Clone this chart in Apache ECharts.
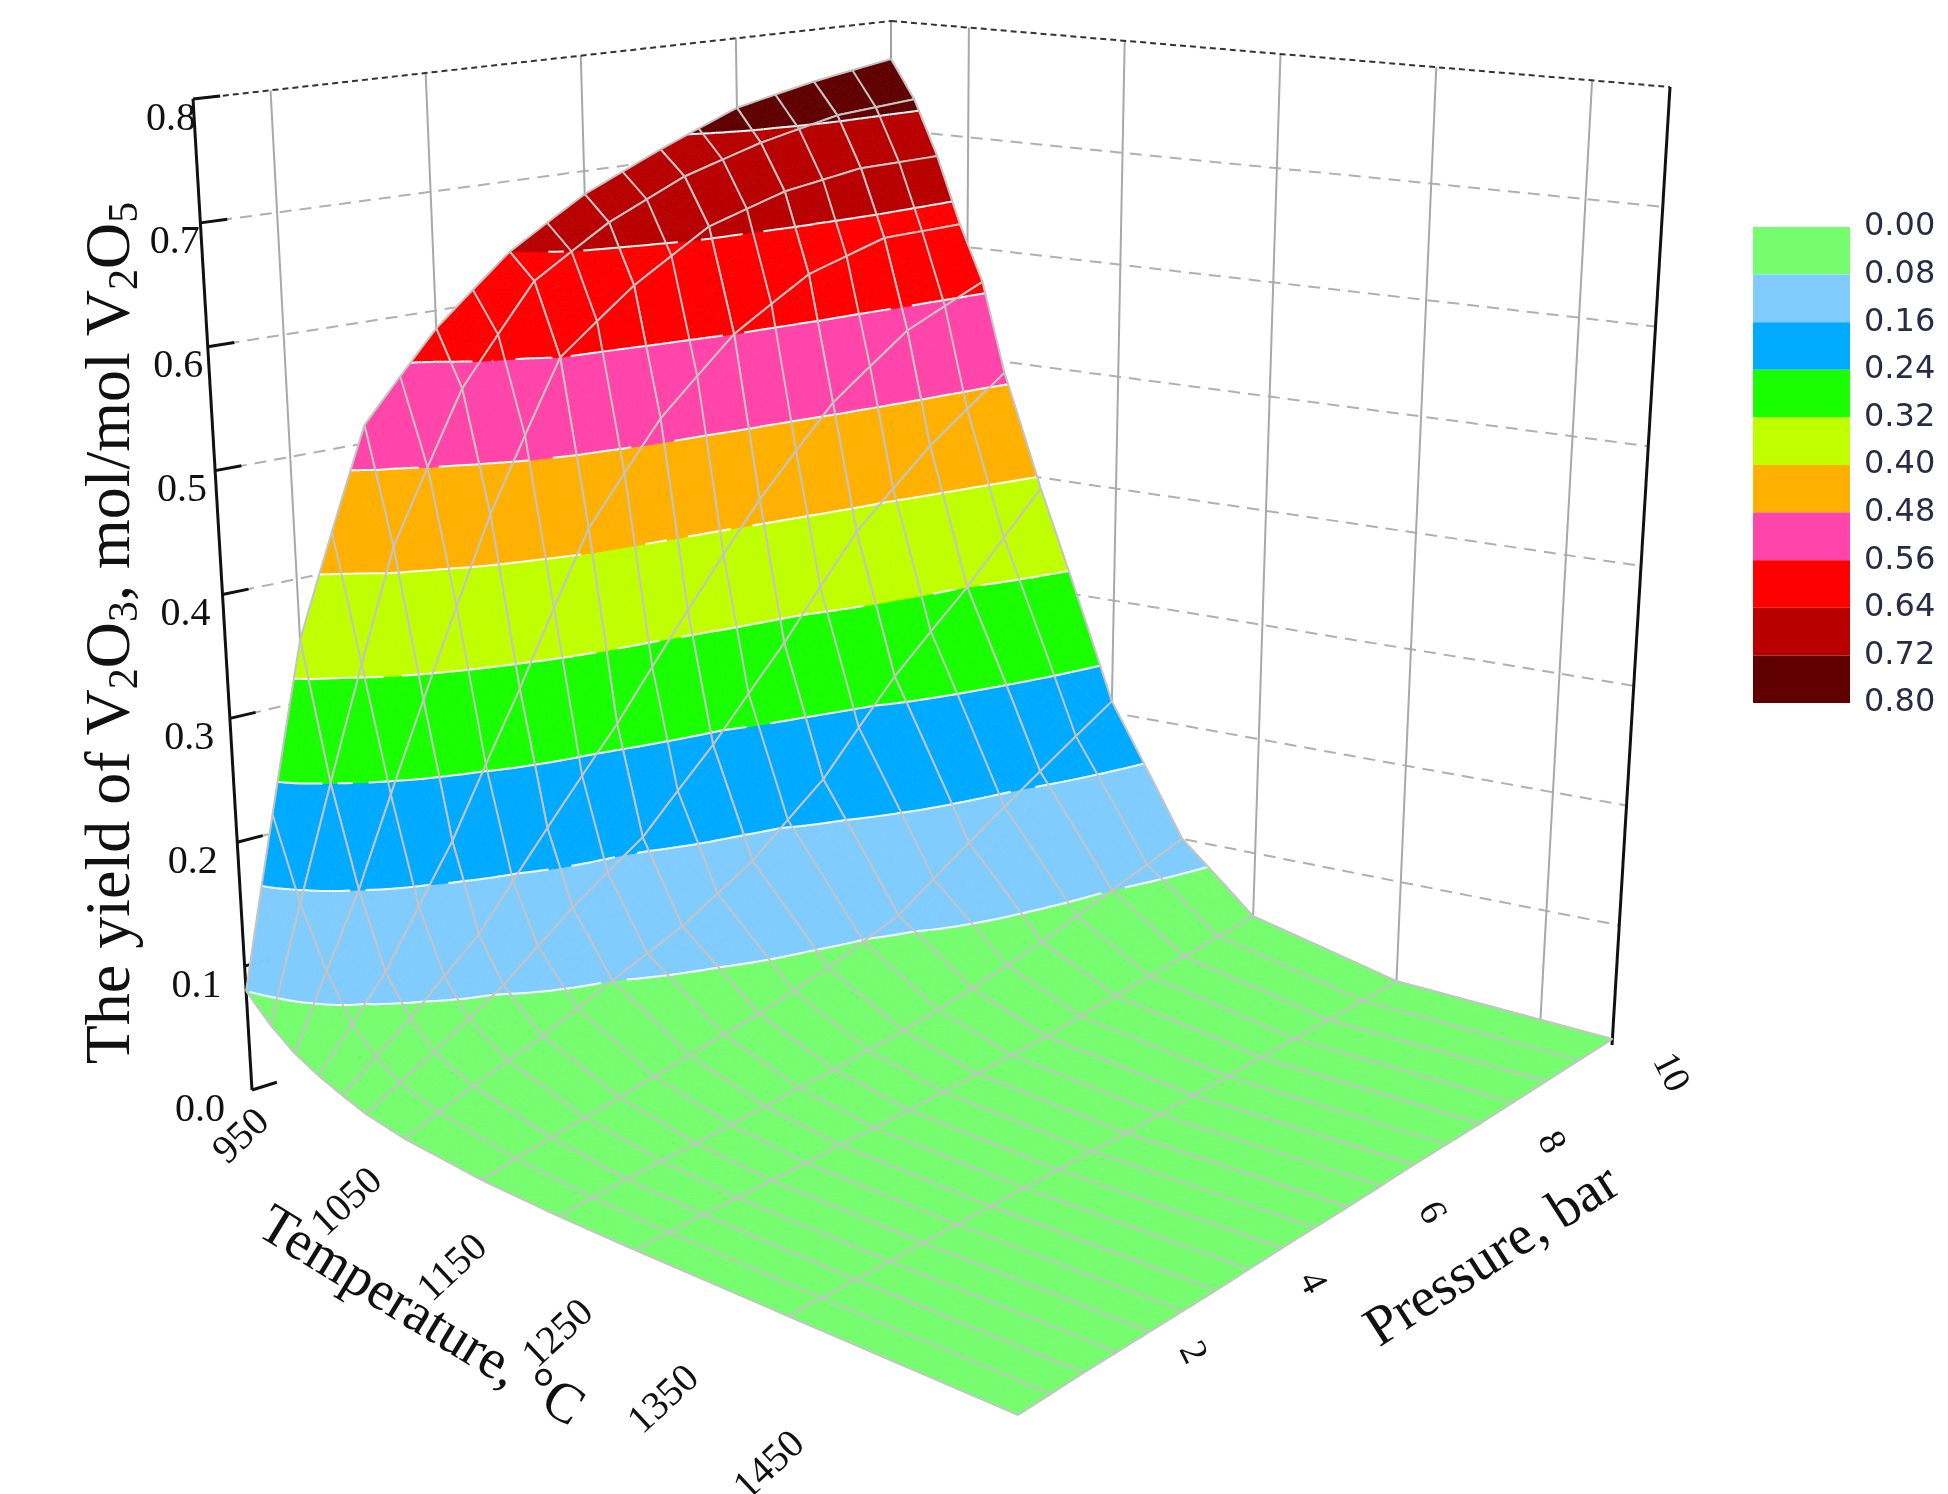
<!DOCTYPE html>
<html>
<head>
<meta charset="utf-8">
<script src="https://cdn.jsdelivr.net/npm/echarts@6/dist/echarts.min.js"></script>
<style>html,body{margin:0;background:#fff}#chart{width:1948px;height:1494px}</style>
</head>
<body>
<div id="chart"></div>
<script>
// temperature rows (°C) and pressure columns (bar)
var temps = [950, 965, 980, 995, 1010, 1025, 1050, 1100, 1150, 1200, 1300, 1450];
var pressures = [1, 2, 3, 4, 5, 6, 7, 8, 9, 10];
// yield of V2O3, one row per temperature
var yieldTable = [
    [0.080, 0.350, 0.515, 0.585, 0.640, 0.680, 0.710, 0.738, 0.753, 0.765],
    [0.060, 0.240, 0.420, 0.540, 0.620, 0.660, 0.690, 0.710, 0.725, 0.730],
    [0.045, 0.160, 0.300, 0.440, 0.560, 0.610, 0.650, 0.670, 0.680, 0.680],
    [0.035, 0.100, 0.190, 0.300, 0.420, 0.500, 0.560, 0.600, 0.620, 0.620],
    [0.027, 0.070, 0.120, 0.190, 0.260, 0.340, 0.420, 0.490, 0.540, 0.570],
    [0.020, 0.050, 0.085, 0.130, 0.170, 0.230, 0.300, 0.380, 0.440, 0.490],
    [0.013, 0.035, 0.055, 0.080, 0.105, 0.140, 0.190, 0.260, 0.320, 0.390],
    [0.006, 0.018, 0.028, 0.040, 0.052, 0.068, 0.090, 0.130, 0.170, 0.210],
    [0.003, 0.009, 0.014, 0.020, 0.026, 0.034, 0.045, 0.060, 0.080, 0.100],
    [0.002, 0.005, 0.007, 0.010, 0.013, 0.017, 0.022, 0.030, 0.037, 0.045],
    [0.001, 0.002, 0.003, 0.004, 0.005, 0.006, 0.008, 0.010, 0.012, 0.015],
    [0.000, 0.001, 0.001, 0.001, 0.002, 0.002, 0.003, 0.003, 0.004, 0.005]
];
var zTicks = [0, 0.1, 0.2, 0.3, 0.4, 0.5, 0.6, 0.7, 0.8];
var tempTicks = [950, 1050, 1150, 1250, 1350, 1450];
var tempGrid = [1000, 1100, 1200, 1300, 1400];
var presTicks = [2, 4, 6, 8, 10];
var bandEdges = [0, 0.08, 0.16, 0.24, 0.32, 0.40, 0.48, 0.56, 0.64, 0.72, 0.80];
var bandColors = ['#76fd6f', '#80ccff', '#00aaff', '#1aff00', '#c0ff00', '#ffb000', '#ff44aa', '#ff0000', '#b80000', '#600000'];

// box corners on screen: floor and top (z = 0.8)
var floorC = {L: [252, 1090], B: [891, 890], R: [1612, 1045], F: [1018, 1415]};
var topC = {L: [193, 99], B: [891, 21], R: [1670, 87], F: [1017, 374]};

function bil(c, t, u) {
    // L = (t0,u0), B = (t0,u1), R = (t1,u1), F = (t1,u0)
    var x = (1 - t) * (1 - u) * c.L[0] + (1 - t) * u * c.B[0] + t * u * c.R[0] + t * (1 - u) * c.F[0];
    var y = (1 - t) * (1 - u) * c.L[1] + (1 - t) * u * c.B[1] + t * u * c.R[1] + t * (1 - u) * c.F[1];
    return [x, y];
}
function project(T, P, z) {
    var t = (T - 950) / 500, u = (P - 1) / 9, w = z / 0.8;
    var a = bil(floorC, t, u), b = bil(topC, t, u);
    return [a[0] + (b[0] - a[0]) * w, a[1] + (b[1] - a[1]) * w];
}

// clip a polygon of [x, y, z] vertices to z >= level (sign 1) or z <= level (sign -1)
function clip(poly, level, sign) {
    var out = [];
    for (var k = 0; k < poly.length; k++) {
        var A = poly[k], B = poly[(k + 1) % poly.length];
        var da = (A[2] - level) * sign, db = (B[2] - level) * sign;
        if (da >= 0) out.push(A);
        if ((da >= 0) !== (db >= 0)) {
            var f = da / (da - db);
            out.push([A[0] + (B[0] - A[0]) * f, A[1] + (B[1] - A[1]) * f, level]);
        }
    }
    return out;
}
function contourSeg(tri, level) {
    var pts = [];
    for (var k = 0; k < 3; k++) {
        var A = tri[k], B = tri[(k + 1) % 3];
        if ((A[2] - level) * (B[2] - level) < 0) {
            var f = (level - A[2]) / (B[2] - A[2]);
            pts.push([A[0] + (B[0] - A[0]) * f, A[1] + (B[1] - A[1]) * f]);
        }
    }
    return pts.length === 2 ? pts : null;
}

// cells, far ones first
var cells = [];
for (var i = 0; i < temps.length - 1; i++) {
    for (var j = 0; j < pressures.length - 1; j++) cells.push([i, j, i + (pressures.length - 2 - j)]);
}
cells.sort(function (a, b) { return a[2] - b[2]; });

var SUB = 8;
function renderCell(params, api) {
    var i = api.value(0), j = api.value(1);
    var T0 = temps[i], T1 = temps[i + 1], P0 = pressures[j], P1 = pressures[j + 1];
    var z00 = yieldTable[i][j], z10 = yieldTable[i + 1][j], z01 = yieldTable[i][j + 1], z11 = yieldTable[i + 1][j + 1];
    function pt(a, b) {
        var z = z00 * (1 - a) * (1 - b) + z10 * a * (1 - b) + z01 * (1 - a) * b + z11 * a * b;
        var p = project(T0 + (T1 - T0) * a, P0 + (P1 - P0) * b, z);
        return [p[0], p[1], z];
    }
    var children = [], contours = [];
    for (var a = 0; a < SUB; a++) {
        for (var b = 0; b < SUB; b++) {
            var q00 = pt(a / SUB, b / SUB), q10 = pt((a + 1) / SUB, b / SUB),
                q11 = pt((a + 1) / SUB, (b + 1) / SUB), q01 = pt(a / SUB, (b + 1) / SUB);
            [[q00, q10, q11], [q00, q11, q01]].forEach(function (tri) {
                for (var k = 0; k < bandColors.length; k++) {
                    var lo = bandEdges[k], hi = k === bandColors.length - 1 ? 9 : bandEdges[k + 1];
                    var poly = clip(clip(tri, lo, 1), hi, -1);
                    if (poly.length < 3) continue;
                    children.push({
                        type: 'polygon',
                        shape: {points: poly.map(function (v) { return [v[0], v[1]]; })},
                        style: {fill: bandColors[k], stroke: bandColors[k], lineWidth: 0.8}
                    });
                }
                for (var m = 1; m < bandEdges.length - 1; m++) {
                    var seg = contourSeg(tri, bandEdges[m]);
                    if (seg) contours.push(seg);
                }
            });
        }
    }
    contours.forEach(function (seg) {
        children.push({type: 'line', shape: {x1: seg[0][0], y1: seg[0][1], x2: seg[1][0], y2: seg[1][1]},
            style: {stroke: '#ffffff', lineWidth: 2}});
    });
    // mesh lines of this cell
    var lines = [[], [], [], [], []];
    for (var s = 0; s <= SUB; s++) {
        lines[0].push(pt(s / SUB, 0)); lines[1].push(pt(s / SUB, 1));
        lines[2].push(pt(0, s / SUB)); lines[3].push(pt(1, s / SUB));
        lines[4].push(pt(s / SUB, 0.5));
    }
    lines.forEach(function (e) {
        children.push({type: 'polyline', shape: {points: e.map(function (v) { return [v[0], v[1]]; })},
            style: {stroke: '#c4c4c4', lineWidth: 2, fill: null}});
    });
    return {type: 'group', children: children};
}

// walls, axes and labels
var graphics = [];
function line(p1, p2, stroke, width, dash) {
    graphics.push({type: 'line', z: 1, shape: {x1: p1[0], y1: p1[1], x2: p2[0], y2: p2[1]},
        style: {stroke: stroke, lineWidth: width, lineDash: dash || null}});
}
zTicks.slice(1, -1).forEach(function (z) {
    line(project(950, 1, z), project(950, 10, z), '#b0b0b0', 2, [12, 8]);
    line(project(950, 10, z), project(1450, 10, z), '#b0b0b0', 2, [12, 8]);
});
presTicks.slice(0, -1).forEach(function (p) {
    line(project(950, p, 0), project(950, p, 0.8), '#a8a8a8', 2);
});
tempGrid.forEach(function (T) {
    line(project(T, 10, 0), project(T, 10, 0.8), '#a8a8a8', 2);
});
line(project(950, 10, 0), project(950, 10, 0.8), '#a0a0a0', 2);
line(project(950, 1, 0.8), project(950, 10, 0.8), '#333', 2, [6, 4]);
line(project(950, 10, 0.8), project(1450, 10, 0.8), '#333', 2, [6, 4]);
line(project(950, 1, 0), project(950, 1, 0.8), '#111', 3);
line(project(1450, 10, 0), project(1450, 10, 0.8), '#111', 3);
zTicks.forEach(function (z) {
    var p = project(950, 1, z);
    line(p, project(950, 1.35, z), '#111', 3);
    graphics.push({type: 'text', x: p[0] - 52 + 30 * z / 0.8, y: p[1] + 20, z: 5,
        style: {text: z.toFixed(1), font: '40px "Liberation Serif"', fill: '#111', align: 'center', verticalAlign: 'middle'}});
});
tempTicks.forEach(function (T) {
    var f = (T - 950) / 500;
    graphics.push({type: 'text', x: 242 + 528 * f, y: 1137 + 329 * f, rotation: 0.75, z: 5,
        style: {text: String(T), font: '40px "Liberation Serif"', fill: '#111', align: 'center', verticalAlign: 'middle'}});
});
presTicks.forEach(function (p) {
    var f = (p - 2) / 8;
    graphics.push({type: 'text', x: 1192 + 478 * f, y: 1353 - 280 * f, rotation: -1.1, z: 5,
        style: {text: String(p), font: '38px "Liberation Serif"', fill: '#111', align: 'center', verticalAlign: 'middle'}});
});
graphics.push({type: 'text', x: 420, y: 1318, rotation: -0.55, z: 5,
    style: {text: 'Temperature, °C', font: '56px "Liberation Serif"', fill: '#111', align: 'center', verticalAlign: 'middle'}});
graphics.push({type: 'text', x: 1493, y: 1257, rotation: 0.57, z: 5,
    style: {text: 'Pressure, bar', font: '56px "Liberation Serif"', fill: '#111', align: 'center', verticalAlign: 'middle'}});
graphics.push({type: 'text', x: 112, y: 633, rotation: Math.PI / 2, z: 5,
    style: {text: 'The yield of V{s|2}O{s|3}, mol/mol V{s|2}O{s|5}', font: '64px "Liberation Serif"', fill: '#111',
        align: 'center', verticalAlign: 'middle',
        rich: {s: {font: '42px "Liberation Serif"', fill: '#111', padding: [28, 0, 0, 0]}}}});

var myChart = echarts.init(document.getElementById('chart'));
var option = {
    backgroundColor: '#fff',
    animation: false,
    graphic: graphics,
    grid: {left: 1753, top: 227, width: 97, height: 476},
    xAxis: {type: 'category', data: ['scale'], show: false},
    yAxis: {
        type: 'value', inverse: true, min: 0, max: 0.8, interval: 0.08, position: 'right',
        axisLine: {show: false}, axisTick: {show: false}, splitLine: {show: false},
        axisLabel: {formatter: function (v) { return v.toFixed(2); }, fontSize: 32, color: '#2a2a48',
            fontFamily: 'DejaVu Sans', margin: 14}
    },
    series: bandColors.map(function (c) {
        return {type: 'bar', stack: 'scale', data: [0.08], barWidth: '100%', itemStyle: {color: c}};
    }).concat([{
        type: 'custom', coordinateSystem: 'none', z: 10,
        renderItem: renderCell,
        data: cells.map(function (c) { return [c[0], c[1]]; })
    }])
};
myChart.setOption(option);
</script>
</body>
</html>
